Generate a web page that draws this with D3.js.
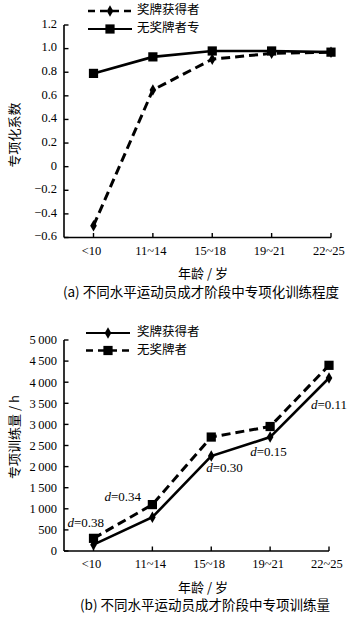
<!DOCTYPE html>
<html>
<head>
<meta charset="utf-8">
<script src="https://cdn.jsdelivr.net/npm/d3@7"></script>
<style>
  body { margin: 0; background: #fff; }
  svg { display: block; }
  text { fill: #000; }
  .tick-label { font-family: "Liberation Serif", "Times New Roman", serif; font-size: 12.5px; }
  .cjk { font-family: "Noto Sans CJK SC", sans-serif; font-size: 13px; }
</style>
</head>
<body>
<svg id="chart" width="362" height="618"></svg>
<script>
// shared categories
const ages = ['<10', '11~14', '15~18', '19~21', '22~25'];

// (a) specialization coefficient
const specTicks = [-0.6, -0.4, -0.2, 0, 0.2, 0.4, 0.6, 0.8, 1.0, 1.2];
const specMedal = [-0.5, 0.65, 0.91, 0.96, 0.97];
const specNoMedal = [0.79, 0.93, 0.98, 0.98, 0.97];

// (b) training volume (h)
const volTicks = [0, 500, 1000, 1500, 2000, 2500, 3000, 3500, 4000, 4500, 5000];
const volMedal = [150, 800, 2250, 2700, 4100];
const volNoMedal = [300, 1100, 2700, 2950, 4400];
const effectLabels = ['0.38', '0.34', '0.30', '0.15', '0.11'];

const svg = d3.select('#chart');

const diamond = d3.symbol().type(d3.symbolDiamond).size(38);
const square = d3.symbol().type(d3.symbolSquare).size(85);

function fmtThousand(v) {
  if (v < 1000) return String(v);
  const s = String(v);
  return s.slice(0, s.length - 3) + '\u2009' + s.slice(-3);
}

function drawPanel(opt) {
  const g = svg.append('g');
  const x = d3.scalePoint().domain(ages).range([93.5, opt.xEnd]);
  const y = d3.scaleLinear().domain(opt.yDomain).range(opt.yRange);

  // y axis
  g.append('line')
    .attr('x1', 64).attr('x2', 64)
    .attr('y1', y(opt.yDomain[0])).attr('y2', y(opt.yDomain[1]))
    .attr('stroke', '#000').attr('stroke-width', 1.6);
  g.selectAll('.ytick').data(opt.ticks).enter().append('line')
    .attr('x1', 64).attr('x2', 68.5)
    .attr('y1', d => y(d)).attr('y2', d => y(d))
    .attr('stroke', '#000').attr('stroke-width', 1.4);
  g.selectAll('.ylab').data(opt.ticks).enter().append('text')
    .attr('class', 'tick-label')
    .attr('x', 57).attr('y', d => y(d) + opt.labelShift)
    .attr('text-anchor', 'end').attr('dominant-baseline', 'middle')
    .text(opt.tickFormat);

  // x axis
  const y0 = y(opt.yDomain[0]);
  g.append('line')
    .attr('x1', 64).attr('x2', opt.xEnd)
    .attr('y1', y0).attr('y2', y0)
    .attr('stroke', '#000').attr('stroke-width', 1.6);
  g.selectAll('.xtick').data(ages).enter().append('line')
    .attr('x1', d => x(d)).attr('x2', d => x(d))
    .attr('y1', y0).attr('y2', y0 - 4.5)
    .attr('stroke', '#000').attr('stroke-width', 1.4);
  g.selectAll('.xlab').data(ages).enter().append('text')
    .attr('class', 'tick-label')
    .attr('x', d => x(d) - 2).attr('y', y0 + 17)
    .attr('text-anchor', 'middle')
    .text(d => d);

  // series
  const line = d3.line().x((d, i) => x(ages[i])).y(d => y(d));
  opt.series.forEach(s => {
    g.append('path')
      .datum(s.values)
      .attr('d', line)
      .attr('fill', 'none')
      .attr('stroke', '#000')
      .attr('stroke-width', s.dashed ? 3 : 2.6)
      .attr('stroke-dasharray', s.dashed ? '9,5' : null);
    g.selectAll(null).data(s.values).enter().append('path')
      .attr('d', s.marker)
      .attr('transform', (d, i) => `translate(${x(ages[i])},${y(d)})`)
      .attr('fill', '#000');
  });

  // legend
  opt.series.forEach((s, i) => {
    const ly = opt.legendY + i * opt.legendGap;
    g.append('line')
      .attr('x1', opt.legendX).attr('x2', opt.legendX + 44)
      .attr('y1', ly).attr('y2', ly)
      .attr('stroke', '#000')
      .attr('stroke-width', s.dashed ? 2.4 : 2)
      .attr('stroke-dasharray', s.dashed ? '7,5' : null);
    g.append('path')
      .attr('d', s.marker)
      .attr('transform', `translate(${opt.legendX + 22},${ly})`)
      .attr('fill', '#000');
    g.append('text')
      .attr('class', 'cjk')
      .attr('x', 137).attr('y', ly)
      .attr('dominant-baseline', 'middle')
      .style('font-size', '12.5px')
      .text(s.name);
  });

  // y title
  g.append('text')
    .attr('class', 'cjk')
    .attr('transform', `translate(15,${opt.yTitleY}) rotate(-90)`)
    .attr('text-anchor', 'middle').attr('dominant-baseline', 'middle')
    .text(opt.yTitle);

  // x title and caption
  g.append('text')
    .attr('class', 'cjk')
    .attr('x', 203).attr('y', opt.xTitleY)
    .attr('text-anchor', 'middle').attr('dominant-baseline', 'middle')
    .text('年龄 / 岁');
  g.append('text')
    .attr('class', 'cjk')
    .attr('x', opt.captionX).attr('y', opt.captionY)
    .attr('text-anchor', 'middle').attr('dominant-baseline', 'middle')
    .style('font-size', '13.5px')
    .text(opt.caption);

  return { g, x, y };
}

drawPanel({
  yDomain: [-0.6, 1.2], yRange: [237.5, 25], xEnd: 331,
  ticks: specTicks, labelShift: 0,
  tickFormat: d => d === 0 ? '0' : d3.format('.1f')(d).replace('-', '\u2212'),
  series: [
    { name: '奖牌获得者', values: specMedal, dashed: true, marker: diamond },
    { name: '无奖牌者专', values: specNoMedal, dashed: false, marker: square }
  ],
  legendX: 88, legendY: 11, legendGap: 18,
  yTitle: '专项化系数', yTitleY: 135,
  xTitleY: 274, caption: '(a) 不同水平运动员成才阶段中专项化训练程度',
  captionX: 201, captionY: 293
});

const b = drawPanel({
  yDomain: [0, 5000], yRange: [551, 340], xEnd: 329,
  ticks: volTicks, labelShift: 1.5,
  tickFormat: fmtThousand,
  series: [
    { name: '奖牌获得者', values: volMedal, dashed: false, marker: diamond },
    { name: '无奖牌者', values: volNoMedal, dashed: true, marker: square }
  ],
  legendX: 86, legendY: 333, legendGap: 17.5,
  yTitle: '专项训练量 / h', yTitleY: 437,
  xTitleY: 588, caption: '(b) 不同水平运动员成才阶段中专项训练量',
  captionX: 205, captionY: 606
});

// effect size labels (d = ...)
const effectPos = [
  { dx: -26, base: volNoMedal, dy: -14 },
  { dx: -48, base: volNoMedal, dy: -7 },
  { dx: -5, base: volMedal, dy: 13 },
  { dx: -20, base: volMedal, dy: 16 },
  { dx: -18, base: volMedal, dy: 28 }
];
effectLabels.forEach((v, i) => {
  const p = effectPos[i];
  const t = b.g.append('text')
    .attr('class', 'tick-label')
    .attr('x', b.x(ages[i]) + p.dx)
    .attr('y', b.y(p.base[i]) + p.dy)
    .attr('dominant-baseline', 'middle')
    .style('font-size', '13px');
  t.append('tspan').style('font-style', 'italic').text('d');
  t.append('tspan').text('=' + v);
});
</script>
</body>
</html>
